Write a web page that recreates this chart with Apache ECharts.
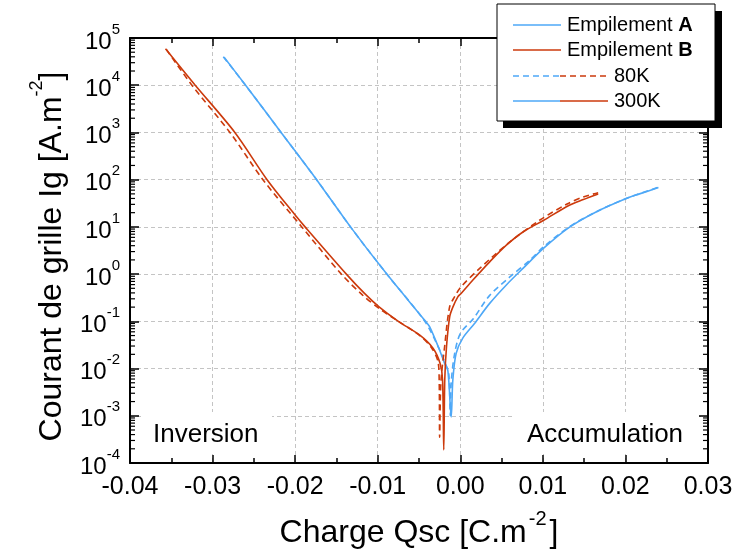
<!DOCTYPE html>
<html>
<head>
<meta charset="utf-8">
<script src="https://cdn.jsdelivr.net/npm/echarts@6.0.0/dist/echarts.min.js"></script>
<style>
    html, body { margin: 0; padding: 0; background: #fff; }
    #chart { width: 739px; height: 559px; }
</style>
</head>
<body>
<div id="chart"></div>
<script>
    // Empilement B, 300K (rouge plein) : [Qsc, Ig]
    var stackB300 = [
        [-0.0357, 5.9e4], [-0.0321, 1.0e4], [-0.0273, 1.0e3], [-0.0234, 100],
        [-0.0200, 17.8], [-0.0188, 10], [-0.0138, 1.0], [-0.0116, 0.39], [-0.0098, 0.20],
        [-0.0075, 0.10], [-0.0049, 0.051], [-0.0033, 0.027], [-0.00245, 0.0129], [-0.00215, 0.0058],
        [-0.0020, 1.9e-4], [-0.00188, 0.0058], [-0.00167, 0.029], [-0.00128, 0.126], [-0.0009, 0.20],
        [-0.0003, 0.33], [0.0001, 0.39], [0.0015, 0.74], [0.00356, 1.82], [0.00558, 4.1],
        [0.00759, 7.8], [0.0101, 13.8], [0.0132, 28.8], [0.0149, 38], [0.0167, 50]
    ];
    // Empilement B, 80K (rouge pointillé)
    var stackB80 = [
        [-0.0356, 5.75e4], [-0.0325, 1.0e4], [-0.0279, 1.0e3], [-0.0239, 100], [-0.0192, 10],
        [-0.0144, 1.0], [-0.0118, 0.355], [-0.0098, 0.186], [-0.0075, 0.10], [-0.0049, 0.05],
        [-0.0035, 0.028], [-0.0027, 0.014], [-0.00255, 0.005], [-0.0025, 3.5e-4], [-0.00235, 0.005],
        [-0.0019, 0.029], [-0.0013, 0.2], [-0.0007, 0.33], [0.0001, 0.54], [0.00235, 1.32],
        [0.006, 4.8], [0.0096, 13.8], [0.013, 31], [0.0149, 43], [0.0167, 53]
    ];
    // Empilement A, 300K (bleu plein)
    var stackA300 = [
        [-0.0286, 3.9e4], [-0.0260, 1.0e4], [-0.0217, 1.0e3], [-0.0174, 100], [-0.0133, 10],
        [-0.0089, 1.0], [-0.0042, 0.1], [-0.0037, 0.076], [-0.0025, 0.0245], [-0.0019, 0.0129],
        [-0.0015, 0.0089], [-0.0011, 9.5e-4], [-0.0009, 0.0058], [-0.0005, 0.021], [0.0003, 0.044],
        [0.0017, 0.089], [0.00356, 0.24], [0.00558, 0.59], [0.00759, 1.32], [0.0101, 3.55],
        [0.0132, 9.8], [0.0165, 21], [0.0201, 40], [0.0217, 50], [0.0240, 68]
    ];
    // Empilement A, 80K (bleu pointillé)
    var stackA80 = [
        [-0.0287, 4.0e4], [-0.0261, 1.05e4], [-0.0217, 1.0e3], [-0.0174, 100], [-0.0133, 10],
        [-0.0089, 1.0], [-0.0043, 0.1], [-0.0025, 0.025], [-0.0018, 0.0126], [-0.0014, 0.008],
        [-0.0012, 1.0e-3], [-0.0011, 0.005], [-0.0007, 0.02], [0.0000, 0.055], [0.0016, 0.115],
        [0.00356, 0.355], [0.006, 0.87], [0.0084, 1.95], [0.0101, 3.8], [0.0132, 10],
        [0.0165, 21], [0.0201, 40], [0.0240, 69]
    ];
    // bornes des axes
    var xMin = -0.04, xMax = 0.03, xStep = 0.01;
    var yMin = 1e-4, yMax = 1e5;
    var legendLabels = ['Empilement ', 'A', 'B', '80K', '300K'];
    var annotations = ['Inversion', 'Accumulation'];

    var BLUE = '#4ea8f7', RED = '#cc3a0c';
    var FONT = 'Liberation Sans, Arial, sans-serif';

    // petites graduations log (2..9 x 10^n)
    var minorTicks = [];
    for (var e = -4; e < 5; e++) {
        for (var m = 2; m <= 9; m++) {
            minorTicks.push([xMin, m * Math.pow(10, e)]);
        }
    }

    var chart = echarts.init(document.getElementById('chart'));

    var xAxisBase = {
        type: 'value',
        min: xMin,
        max: xMax,
        interval: xStep,
        axisLine: { show: true, onZero: false, lineStyle: { color: '#000', width: 2 } },
        axisTick: { show: true, inside: true, length: 8, lineStyle: { color: '#000', width: 1.5 } },
        minorTick: { show: true, splitNumber: 2, length: 5, lineStyle: { color: '#000', width: 1.5 } }
    };
    var yAxisBase = {
        type: 'log',
        logBase: 10,
        min: yMin,
        max: yMax,
        splitNumber: 9,
        axisLine: { show: true, onZero: false, lineStyle: { color: '#000', width: 2 } },
        axisTick: { show: true, inside: true, length: 9, lineStyle: { color: '#000', width: 1.5 } }
    };

    var option = {
        animation: false,
        backgroundColor: '#fff',
        grid: { left: 130, right: 31, top: 38, bottom: 96 },
        xAxis: [
            echarts.util.merge({
                position: 'bottom',
                name: '{t|Charge Qsc [C.m}{s|-2}{t|]}',
                nameLocation: 'middle',
                nameGap: 46,
                nameTextStyle: {
                    rich: {
                        t: { fontSize: 32, fontFamily: FONT, color: '#000', lineHeight: 40, verticalAlign: 'bottom' },
                        s: { fontSize: 20, fontFamily: FONT, color: '#000', lineHeight: 18, verticalAlign: 'top', padding: [0, 3, 0, 2] }
                    }
                },
                axisLabel: {
                    margin: 12,
                    fontSize: 25,
                    fontFamily: FONT,
                    color: '#000',
                    formatter: function (v) {
                        if (Math.abs(v) < 1e-9) return '0.00';
                        return v.toFixed(2);
                    }
                },
                splitLine: { show: true, lineStyle: { color: '#c4c4c4', type: [4, 3], width: 1 } }
            }, xAxisBase, true),
            echarts.util.merge({
                position: 'top',
                axisLabel: { show: false },
                splitLine: { show: false }
            }, xAxisBase, true)
        ],
        yAxis: [
            echarts.util.merge({
                position: 'left',
                name: '{t|Courant de grille Ig [A.m}{s|-2}{t|]}',
                nameLocation: 'middle',
                nameGap: 62,
                nameTextStyle: {
                    padding: [0, 12, 0, 0],
                    rich: {
                        t: { fontSize: 32, fontFamily: FONT, color: '#000', lineHeight: 40, verticalAlign: 'bottom' },
                        s: { fontSize: 18, fontFamily: FONT, color: '#000', lineHeight: 18, verticalAlign: 'top' }
                    }
                },
                axisLabel: {
                    margin: 10,
                    formatter: function (v) {
                        var p = Math.round(Math.log(v) / Math.LN10);
                        return '{b|10}{s|' + p + '}';
                    },
                    rich: {
                        b: { fontSize: 24, fontFamily: FONT, color: '#000', lineHeight: 32, verticalAlign: 'bottom' },
                        s: { fontSize: 15, fontFamily: FONT, color: '#000', lineHeight: 15, verticalAlign: 'top' }
                    }
                },
                splitLine: { show: true, lineStyle: { color: '#c4c4c4', type: [4, 3], width: 1 } }
            }, yAxisBase, true),
            echarts.util.merge({
                position: 'right',
                axisLabel: { show: false },
                splitLine: { show: false }
            }, yAxisBase, true)
        ],
        series: [
            {
                name: 'A 80K', type: 'line', data: stackA80, showSymbol: false, z: 3, smooth: 0.3,
                lineStyle: { color: BLUE, width: 1.6, type: [6, 4] }
            },
            {
                name: 'A 300K', type: 'line', data: stackA300, showSymbol: false, z: 3, smooth: 0.3,
                lineStyle: { color: BLUE, width: 1.6 }
            },
            {
                name: 'B 80K', type: 'line', data: stackB80, showSymbol: false, z: 4, smooth: 0.3,
                lineStyle: { color: RED, width: 1.6, type: [6, 4] }
            },
            {
                name: 'B 300K', type: 'line', data: stackB300, showSymbol: false, z: 4, smooth: 0.3,
                lineStyle: { color: RED, width: 1.6 }
            },
            {
                name: 'minorTicks', type: 'custom', data: minorTicks, silent: true, clip: false, z: 5,
                encode: { x: 0, y: 1 },
                renderItem: function (params, api) {
                    var v = api.value(1);
                    var l = api.coord([xMin, v]);
                    var r = api.coord([xMax, v]);
                    return {
                        type: 'group',
                        children: [
                            { type: 'line', shape: { x1: l[0], y1: l[1], x2: l[0] + 5, y2: l[1] }, style: { stroke: '#000', lineWidth: 1.2 } },
                            { type: 'line', shape: { x1: r[0], y1: r[1], x2: r[0] - 5, y2: r[1] }, style: { stroke: '#000', lineWidth: 1.2 } }
                        ]
                    };
                }
            }
        ],
        graphic: [
            // fonds blancs des annotations
            { type: 'rect', z: 1, shape: { x: 141, y: 412, width: 131, height: 42 }, style: { fill: '#fff' } },
            { type: 'rect', z: 1, shape: { x: 515, y: 412, width: 184, height: 42 }, style: { fill: '#fff' } },
            { type: 'text', z: 6, x: 153, y: 435, style: { text: annotations[0], fontSize: 26, fontFamily: FONT, fill: '#000', verticalAlign: 'middle' } },
            { type: 'text', z: 6, x: 527, y: 435, style: { text: annotations[1], fontSize: 26, fontFamily: FONT, fill: '#000', verticalAlign: 'middle' } },
            // légende
            { type: 'rect', z: 10, shape: { x: 503, y: 11, width: 219, height: 117 }, style: { fill: '#000' } },
            { type: 'rect', z: 11, shape: { x: 497, y: 4, width: 218, height: 117 }, style: { fill: '#fff', stroke: '#000', lineWidth: 1 } },
            { type: 'line', z: 12, shape: { x1: 513, y1: 25, x2: 561, y2: 25 }, style: { stroke: BLUE, lineWidth: 1.6 } },
            { type: 'line', z: 12, shape: { x1: 513, y1: 50, x2: 561, y2: 50 }, style: { stroke: RED, lineWidth: 1.6 } },
            { type: 'line', z: 12, shape: { x1: 513, y1: 76, x2: 560, y2: 76 }, style: { stroke: BLUE, lineWidth: 1.6, lineDash: [6, 4] } },
            { type: 'line', z: 12, shape: { x1: 560, y1: 76, x2: 608, y2: 76 }, style: { stroke: RED, lineWidth: 1.6, lineDash: [6, 4] } },
            { type: 'line', z: 12, shape: { x1: 513, y1: 101, x2: 560, y2: 101 }, style: { stroke: BLUE, lineWidth: 1.6 } },
            { type: 'line', z: 12, shape: { x1: 560, y1: 101, x2: 608, y2: 101 }, style: { stroke: RED, lineWidth: 1.6 } },
            {
                type: 'text', z: 12, x: 567, y: 25,
                style: {
                    text: '{n|' + legendLabels[0] + '}{b|' + legendLabels[1] + '}', verticalAlign: 'middle',
                    rich: { n: { fontSize: 20, fontFamily: FONT, fill: '#000' }, b: { fontSize: 20, fontFamily: FONT, fontWeight: 'bold', fill: '#000' } }
                }
            },
            {
                type: 'text', z: 12, x: 567, y: 50,
                style: {
                    text: '{n|' + legendLabels[0] + '}{b|' + legendLabels[2] + '}', verticalAlign: 'middle',
                    rich: { n: { fontSize: 20, fontFamily: FONT, fill: '#000' }, b: { fontSize: 20, fontFamily: FONT, fontWeight: 'bold', fill: '#000' } }
                }
            },
            { type: 'text', z: 12, x: 614, y: 76, style: { text: legendLabels[3], fontSize: 20, fontFamily: FONT, fill: '#000', verticalAlign: 'middle' } },
            { type: 'text', z: 12, x: 614, y: 101, style: { text: legendLabels[4], fontSize: 20, fontFamily: FONT, fill: '#000', verticalAlign: 'middle' } }
        ]
    };
    chart.setOption(option);
</script>
</body>
</html>
